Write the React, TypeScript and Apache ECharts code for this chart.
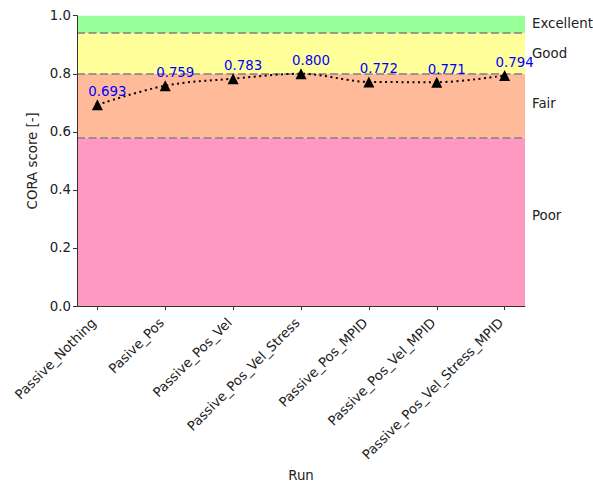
import React, { useEffect, useRef } from "react";
import * as echarts from "echarts";

const categories = [
  "Passive_Nothing",
  "Pasive_Pos",
  "Passive_Pos_Vel",
  "Passive_Pos_Vel_Stress",
  "Passive_Pos_MPID",
  "Passive_Pos_Vel_MPID",
  "Passive_Pos_Vel_Stress_MPID",
];
const scores = [0.693, 0.759, 0.783, 0.8, 0.772, 0.771, 0.794];

const bandNames = ["Poor", "Fair", "Good", "Excellent"];
const bandLows = [0, 0.58, 0.8, 0.94];
const bandHighs = [0.58, 0.8, 0.94, 1.0];
const bandColors = ["#ff99c2", "#ffbb99", "#ffff99", "#99ff99"];
const thresholds = [0.58, 0.8, 0.94];

const FONT = "DejaVu Sans";
const FS = 13.33;

export default function App() {
  const ref = useRef<HTMLDivElement>(null);
  useEffect(() => {
    document.body.style.margin = "0";
    if (!ref.current) return;
    const chart = echarts.init(ref.current, null, { renderer: "svg" });
    const idx = categories.map((_, i) => i);
    const labelOffsets: Record<string, number[]> = {
      Poor: [0, -6],
      Fair: [0, -2],
      Good: [0, 0],
      Excellent: [0, -1],
    };
    chart.setOption({
      animation: false,
      textStyle: { fontFamily: FONT },
      grid: { left: 77, right: 68, top: 15.7, bottom: 181 },
      xAxis: {
        type: "value",
        min: -0.3,
        max: 6.3,
        z: 20,
        name: "Run",
        nameLocation: "middle",
        nameGap: 159,
        nameTextStyle: { fontFamily: FONT, fontSize: FS, color: "#222" },
        axisLine: { show: true, onZero: false, lineStyle: { color: "#333", width: 1 } },
        axisTick: { show: true, customValues: idx, length: 4, lineStyle: { color: "#333" } },
        axisLabel: {
          customValues: idx,
          rotate: 45,
          margin: 11,
          padding: [0, 5, 0, 0],
          fontFamily: FONT,
          fontSize: FS,
          color: "#222",
          formatter: (v: number) => categories[Math.round(v)] ?? "",
        },
        splitLine: { show: false },
      },
      yAxis: {
        type: "value",
        min: 0,
        max: 1,
        interval: 0.2,
        z: 20,
        name: "CORA score [-]",
        nameLocation: "middle",
        nameGap: 37,
        nameTextStyle: { fontFamily: FONT, fontSize: FS, color: "#222" },
        axisLine: { show: true, onZero: false, lineStyle: { color: "#333", width: 1 } },
        axisTick: { show: true, length: 4, lineStyle: { color: "#333" } },
        axisLabel: {
          fontFamily: FONT,
          fontSize: FS,
          color: "#222",
          margin: 6,
          formatter: (v: number) => v.toFixed(1),
        },
        splitLine: { show: false },
      },
      series: [
        {
          type: "line",
          name: "bands",
          data: [],
          silent: true,
          z: 1,
          markArea: {
            silent: true,
            data: bandNames.map((name, i) => [
              {
                name,
                yAxis: bandLows[i],
                itemStyle: { color: bandColors[i], opacity: 1 },
                label: {
                  show: true,
                  position: "right",
                  distance: 7,
                  color: "#222",
                  fontFamily: FONT,
                  fontSize: FS,
                  offset: labelOffsets[name],
                },
              },
              { yAxis: bandHighs[i] },
            ]),
          },
          markLine: {
            silent: true,
            symbol: ["none", "none"],
            label: { show: false },
            lineStyle: { color: "#808080", width: 1.5, type: [8, 3.5] },
            data: thresholds.map((t) => ({ yAxis: t, label: { show: false } })),
          },
        },
        {
          type: "line",
          name: "CORA",
          data: scores.map((v, i) => [i, v]),
          smooth: 0.35,
          symbol: "triangle",
          symbolSize: 11,
          itemStyle: { color: "#000" },
          lineStyle: { color: "#000", width: 2, type: [2, 3.5] },
          z: 10,
          label: {
            show: true,
            position: "top",
            offset: [10, 4],
            color: "#0000ff",
            fontFamily: FONT,
            fontSize: FS,
            formatter: (p: any) => p.value[1].toFixed(3),
          },
        },
      ],
    });
    return () => chart.dispose();
  }, []);
  return <div ref={ref} style={{ width: 593, height: 487 }} />;
}
